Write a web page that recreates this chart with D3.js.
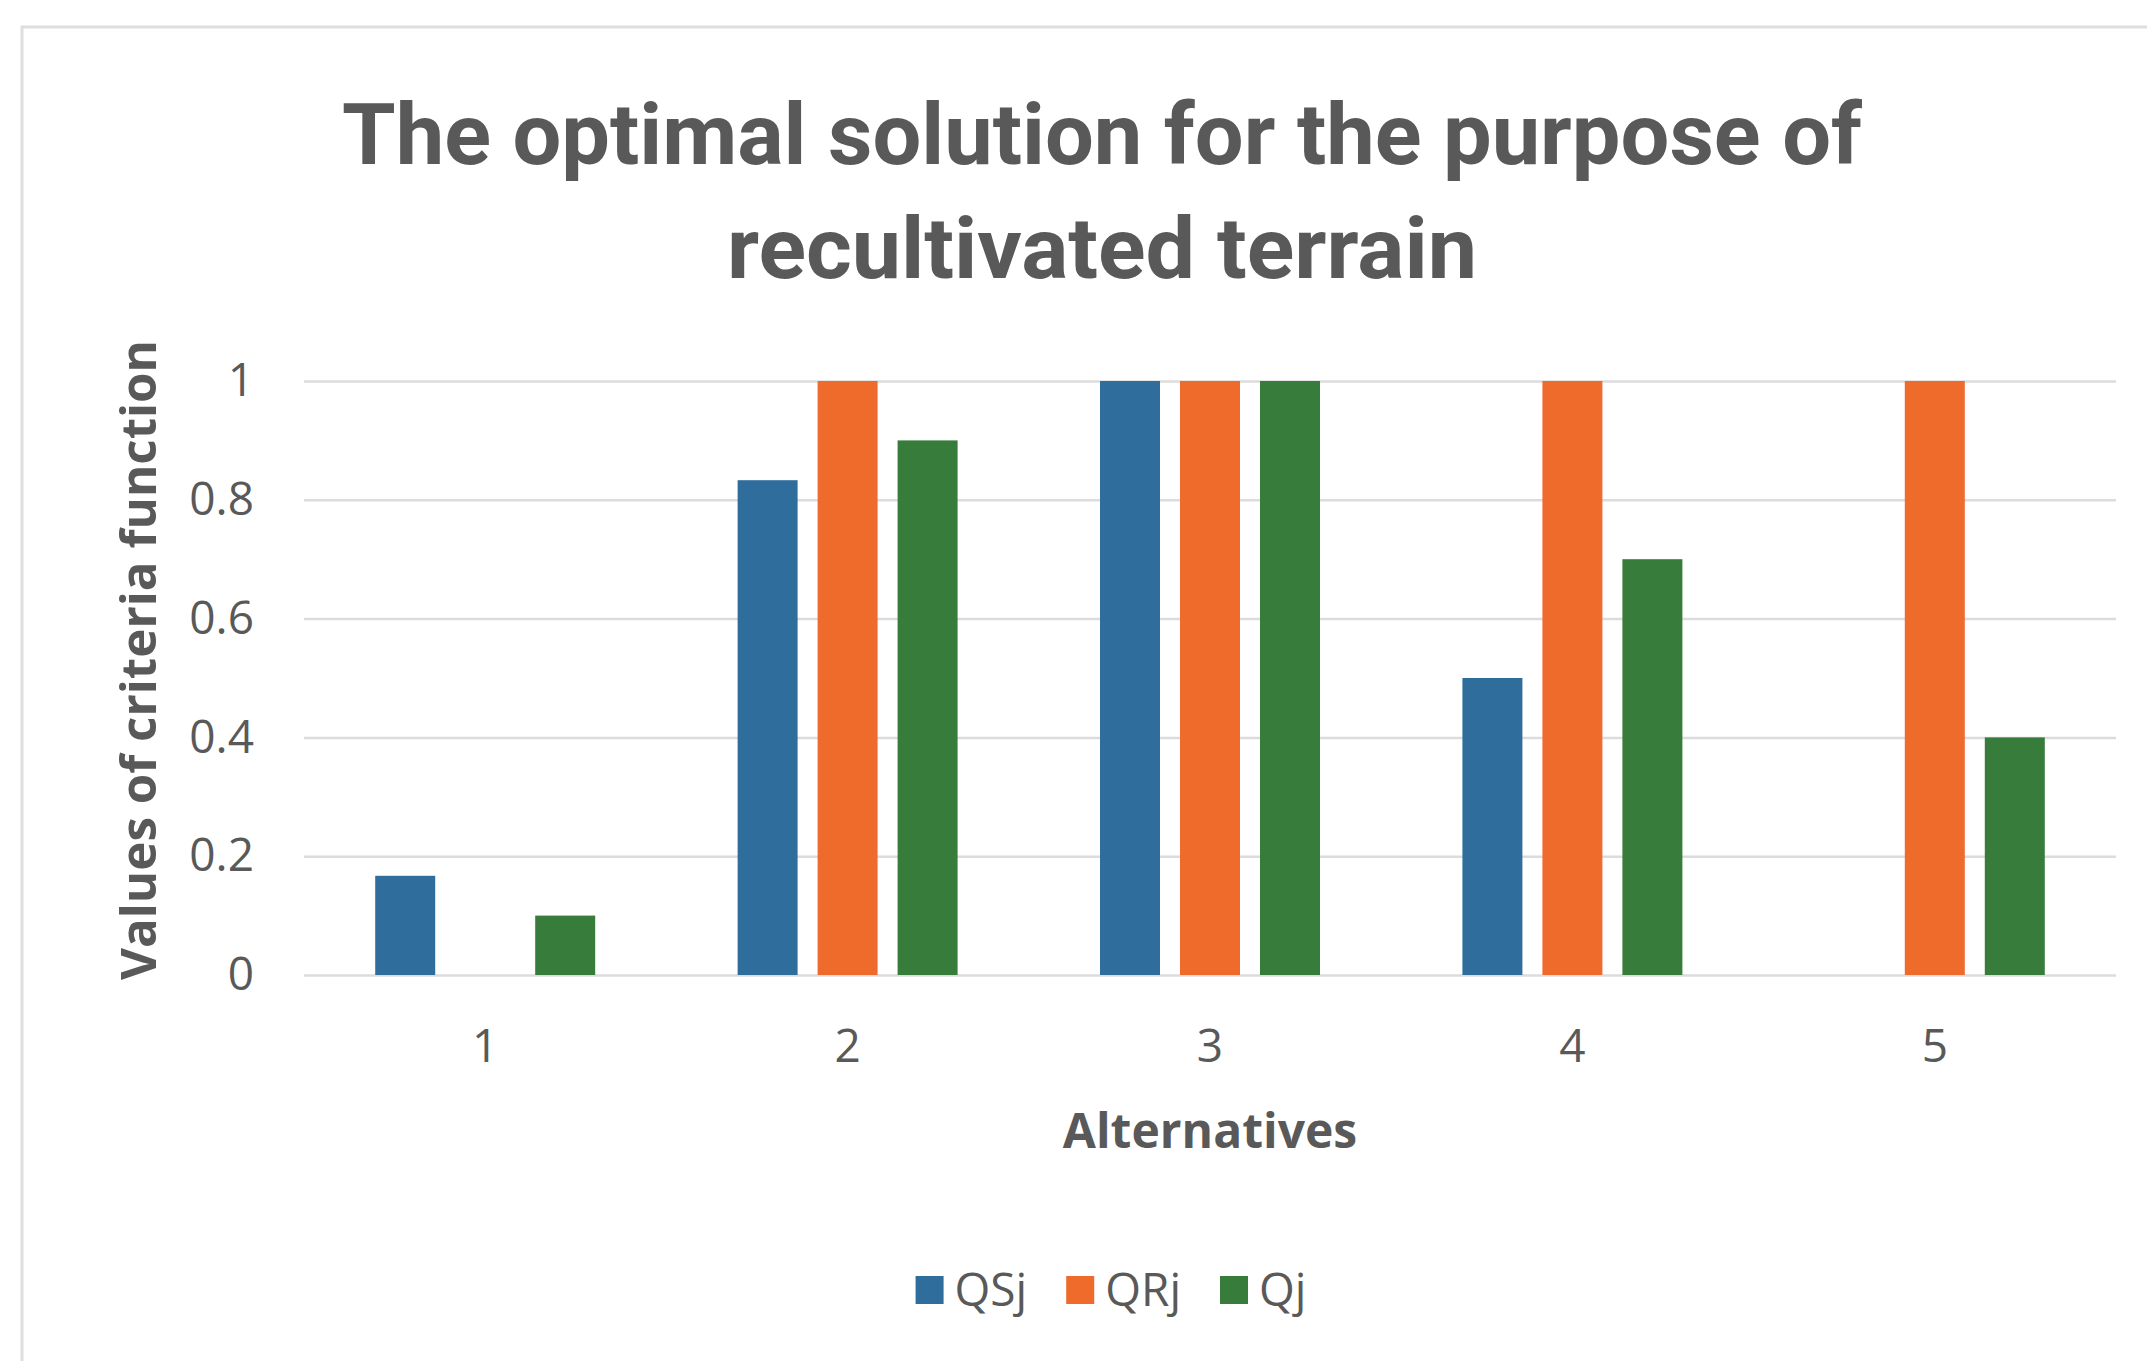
<!DOCTYPE html>
<html>
<head>
<meta charset="utf-8">
<script src="https://cdn.jsdelivr.net/npm/d3@7"></script>
<style>
  body { margin: 0; background: #fff; }
  text { fill: #595959; }
</style>
</head>
<body>
<svg></svg>
<script>
// data
const alternatives = ["1", "2", "3", "4", "5"]
const seriesNames = ["QSj", "QRj", "Qj"]
const qsj = [0.167, 0.833, 1, 0.5, 0]
const qrj = [0, 1, 1, 1, 1]
const qj = [0.1, 0.9, 1, 0.7, 0.4]
const yTicks = [0, 0.2, 0.4, 0.6, 0.8, 1]
const colors = ["#2F6E9C", "#EE6B2C", "#377C3B"]

const titleLines = ["The optimal solution for the purpose of", "recultivated terrain"]
const xTitle = "Alternatives"
const yTitle = "Values of criteria function"

margin = ({top: 381, right: 31, bottom: 386, left: 304})
var width = 2147, height = 1361

var svg = d3.select("svg")
    .attr("width", width)
    .attr("height", height)

// chart area border (cut off on the right and bottom)
svg.append("rect")
    .attr("x", 22).attr("y", 27)
    .attr("width", width + 20).attr("height", height + 20)
    .attr("fill", "#fff")
    .attr("stroke", "#dedede")
    .attr("stroke-width", 3)

const values = {QSj: qsj, QRj: qrj, Qj: qj}
const rows = alternatives.map((a, i) => {
    const r = {alt: a}
    seriesNames.forEach(s => r[s] = values[s][i])
    return r
})

x0 = d3.scaleBand()
    .domain(alternatives)
    .range([margin.left, width - margin.right])
    .paddingInner(0.393)
    .paddingOuter(0.1965)

x1 = d3.scaleBand()
    .domain(seriesNames)
    .range([0, x0.bandwidth()])
    .paddingInner(0.25)

y = d3.scaleLinear()
    .domain([0, 1])
    .range([height - margin.bottom, margin.top])

color = d3.scaleOrdinal().domain(seriesNames).range(colors)

// gridlines + y labels
yAxis = g => g
    .attr("transform", `translate(${margin.left},0)`)
    .call(d3.axisLeft(y).tickValues(yTicks).tickFormat(d3.format("~g"))
        .tickSize(-(width - margin.left - margin.right)).tickPadding(50))
    .call(g => g.select(".domain").remove())
    .call(g => g.selectAll(".tick line").attr("stroke", "#dcdcdc").attr("stroke-width", 2.5))
    .call(g => g.selectAll(".tick text")
        .attr("font-family", "'Open Sans', sans-serif")
        .attr("font-size", 46)
        .attr("fill", "#5f5f5f"))

svg.append("g").call(yAxis)

xAxis = g => g
    .attr("transform", `translate(0,${height - margin.bottom})`)
    .call(d3.axisBottom(x0).tickSize(0).tickPadding(54))
    .call(g => g.select(".domain").remove())
    .call(g => g.selectAll(".tick text")
        .attr("font-family", "'Open Sans', sans-serif")
        .attr("font-size", 46)
        .attr("fill", "#5f5f5f"))

svg.append("g").call(xAxis)

// bars
svg.append("g")
  .selectAll("g")
  .data(rows)
  .join("g")
    .attr("transform", d => `translate(${x0(d.alt)},0)`)
  .selectAll("rect")
  .data(d => seriesNames.map(k => ({key: k, value: d[k]})))
  .join("rect")
    .attr("x", d => x1(d.key))
    .attr("y", d => y(d.value))
    .attr("width", x1.bandwidth())
    .attr("height", d => y(0) - y(d.value))
    .attr("fill", d => color(d.key))

// title
const titleW = [1520, 750]
svg.append("g")
  .selectAll("text")
  .data(titleLines)
  .join("text")
    .attr("x", 1102)
    .attr("y", (d, i) => 164 + i * 114)
    .attr("text-anchor", "middle")
    .attr("font-family", "Roboto, sans-serif")
    .attr("font-weight", "bold")
    .attr("font-size", 86)
    .attr("textLength", (d, i) => titleW[i])
    .attr("lengthAdjust", "spacingAndGlyphs")
    .text(d => d)

// axis titles
svg.append("text")
    .attr("x", (margin.left + width - margin.right) / 2)
    .attr("y", 1148)
    .attr("text-anchor", "middle")
    .attr("font-family", "'Open Sans', sans-serif")
    .attr("font-weight", "bold")
    .attr("font-size", 48)
    .text(xTitle)

svg.append("text")
    .attr("transform", "translate(156,660) rotate(-90)")
    .attr("text-anchor", "middle")
    .attr("font-family", "'Open Sans', sans-serif")
    .attr("font-weight", "bold")
    .attr("font-size", 48)
    .attr("textLength", 640)
    .attr("lengthAdjust", "spacingAndGlyphs")
    .text(yTitle)

// legend
const legend = svg.append("g")
let lx = 0
seriesNames.forEach((s, i) => {
    const item = legend.append("g").attr("transform", `translate(${lx},0)`)
    item.append("rect")
        .attr("x", 0).attr("y", -30)
        .attr("width", 28).attr("height", 28)
        .attr("fill", color(s))
    const t = item.append("text")
        .attr("x", 39).attr("y", 0)
        .attr("font-family", "'Open Sans', sans-serif")
        .attr("font-size", 46)
        .attr("fill", "#5f5f5f")
        .text(s)
    lx += 39 + t.node().getComputedTextLength() + 39
})
lx -= 39
legend.attr("transform", `translate(${1111 - lx / 2},1306)`)
</script>
</body>
</html>
